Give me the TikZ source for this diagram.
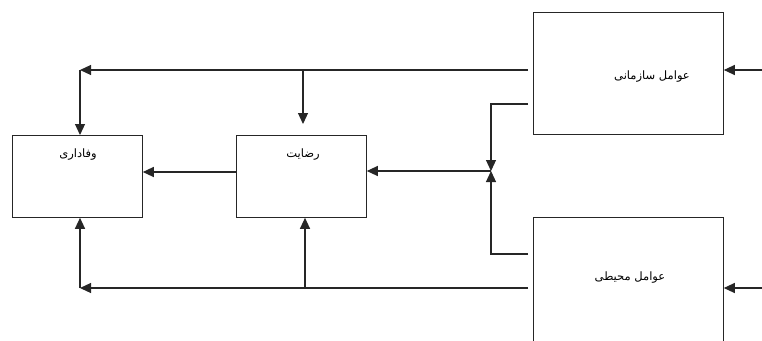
\documentclass[tikz,border=0pt]{standalone}
\usepackage{fontspec}
\newfontfamily\arabicfont[Script=Arabic]{DejaVu Sans}
\TeXXeTstate=1
\usetikzlibrary{arrows.meta,calc}
\begin{document}
\begin{tikzpicture}[x=1pt,y=-1pt,
  box/.style={draw=black!85, line width=0.8pt, rectangle, inner sep=0pt, anchor=north west},
  lbl/.style={font=\arabicfont\fontsize{11.5}{13}\selectfont, inner sep=0pt},
  conn/.style={line width=1.2pt, draw=black!85},
  arr/.style={conn, -{Triangle[length=11pt,width=10pt]}}]
\useasboundingbox (0,0) rectangle (762,340);
\clip (0,0) rectangle (762,340);
% boxes
\node[box, minimum width=190pt, minimum height=122pt] (org) at (533,12) {};
\node[box, minimum width=190pt, minimum height=140pt] (env) at (533,217) {};
\node[box, minimum width=130pt, minimum height=82pt] (loy) at (12,135) {};
\node[box, minimum width=130pt, minimum height=82pt] (sat) at (236,135) {};
% labels
\node[lbl] (orgt) at (652,77) {\beginR عوامل سازمانی\endR};
\node[lbl] (envt) at (630,278) {\beginR عوامل محیطی\endR};
\node[lbl] (loyt) at (78,155) {\beginR وفاداری\endR};
\node[lbl] (satt) at (303,155) {\beginR رضایت\endR};
% connector points
\coordinate (o1) at (528,70);
\coordinate (c1) at (80,70);
\coordinate (b1) at (303,70);
\coordinate (o2) at (528,104);
\coordinate (j1) at (491,104);
\coordinate (jn) at (491,171);
\coordinate (e1) at (528,254);
\coordinate (j2) at (491,254);
\coordinate (e2) at (528,288);
\coordinate (c2) at (80,288);
\coordinate (b2) at (305,288);
\coordinate (in1) at (762,70);
\coordinate (in2) at (762,288);
\coordinate (s1) at (236,172);
% connectors
\draw[arr] (o1) -- (c1);
\draw[arr] (c1) -- (c1 |- loy.north);
\draw[arr] (b1) -- ($(b1 |- sat.north)+(0,-11)$);
\draw[arr] (o2) -- (j1) -- (jn);
\draw[arr] (e1) -- (j2) -- (jn);
\draw[arr] (jn) -- (jn -| sat.east);
\draw[arr] (s1) -- (s1 -| loy.east);
\draw[arr] (e2) -- (c2);
\draw[arr] (c2) -- (c2 |- loy.south);
\draw[arr] (b2) -- (b2 |- sat.south);
\draw[arr] (in1) -- (in1 -| org.east);
\draw[arr] (in2) -- (in2 -| env.east);
\end{tikzpicture}
\end{document}
